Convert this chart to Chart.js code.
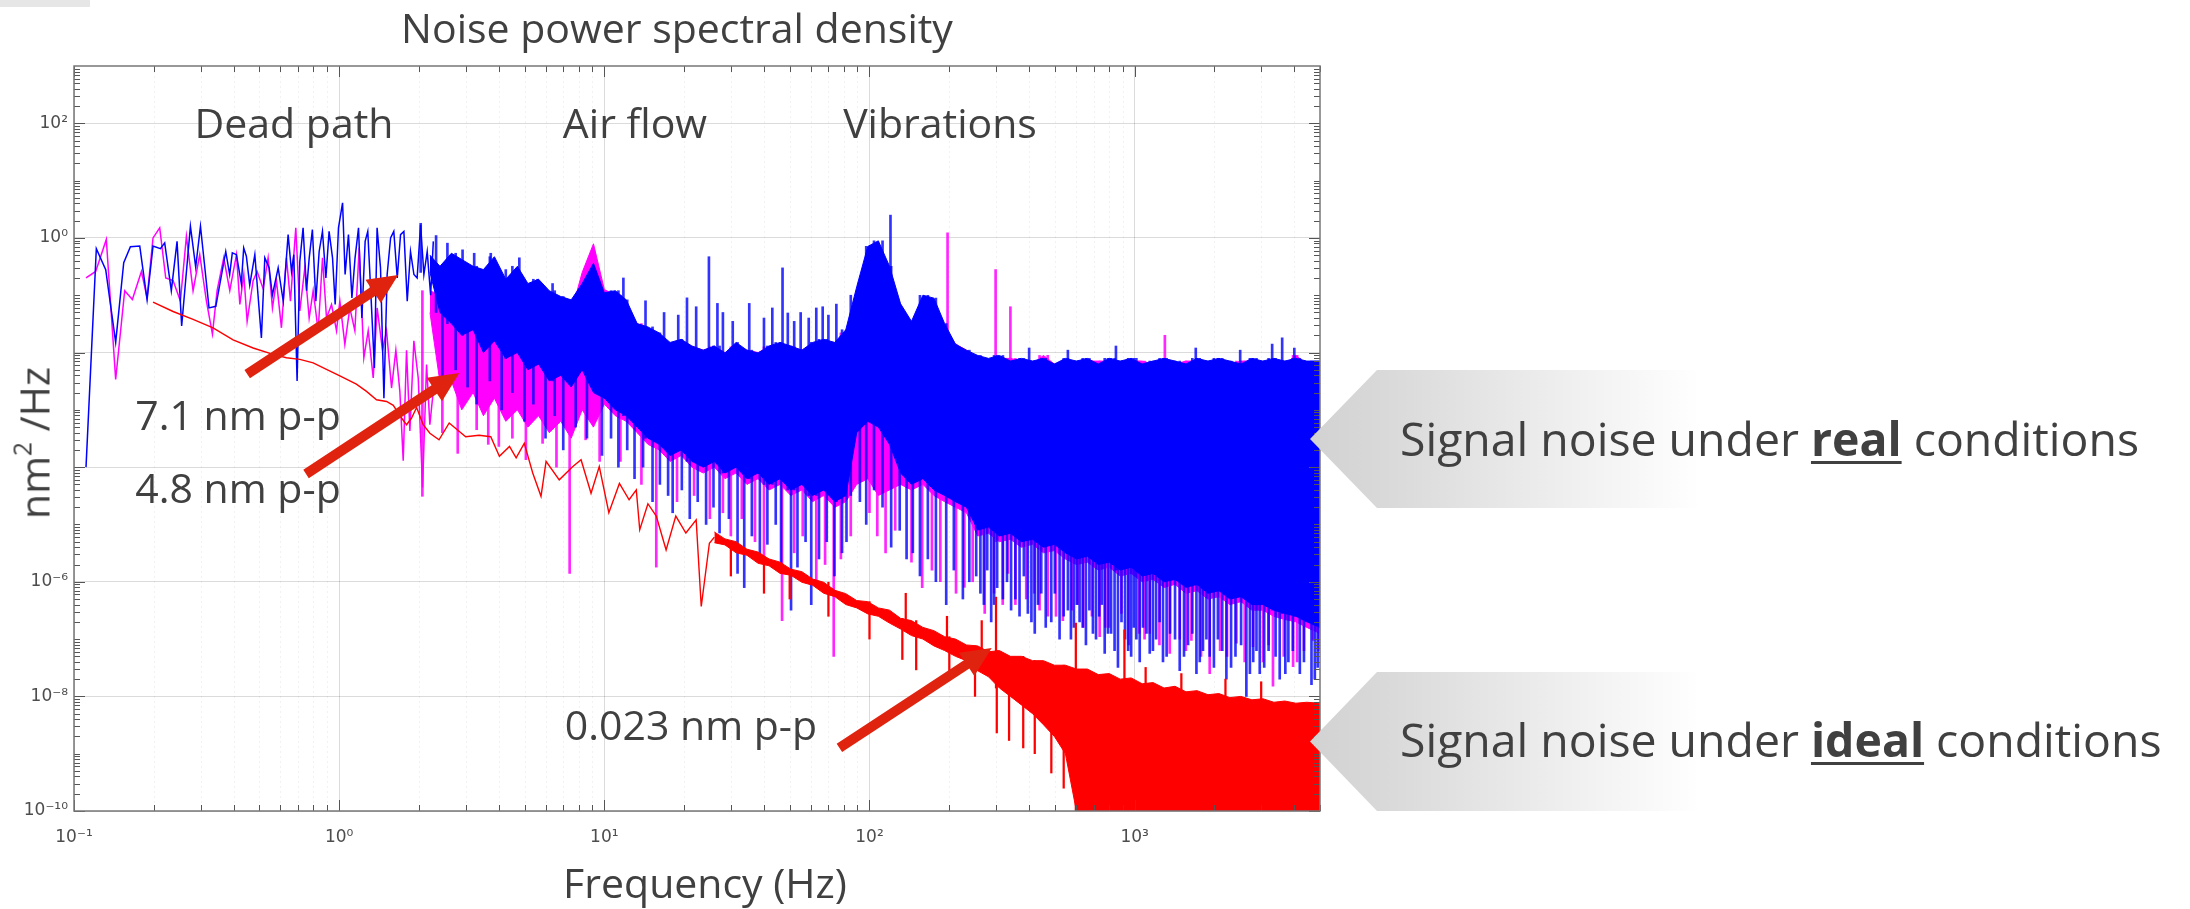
<!DOCTYPE html>
<html><head><meta charset="utf-8">
<script src="https://cdn.jsdelivr.net/npm/chart.js@4/dist/chart.umd.min.js"></script>
<style>
html,body{margin:0;padding:0;background:#fff;}
#wrap{position:relative;width:2190px;height:909px;overflow:hidden;font-family:'Open Sans',sans-serif;color:#404040;}
#c{position:absolute;left:0;top:0;}
.t{position:absolute;white-space:nowrap;line-height:1;}
.c{transform:translateX(-50%);}
.corner{position:absolute;left:0;top:0;width:90px;height:7px;background:#e6e6e6;}
.callout{position:absolute;left:1310px;width:880px;
  clip-path:polygon(0 50%,67px 0,100% 0,100% 100%,67px 100%);
  background:linear-gradient(to right,#d2d2d2 0px,#d8d8d8 67px,#ffffff 390px);}
u{text-decoration-thickness:3px;text-underline-offset:5px;}
sup{font-size:.6em;vertical-align:baseline;position:relative;top:-.75em;}
</style></head><body>
<div id="wrap">
<canvas id="c" width="2190" height="909"></canvas>
<div class="corner"></div>
<div class="callout" style="top:370px;height:138px"></div>
<div class="callout" style="top:672px;height:139px"></div>
<div class="t c" style="left:677px;top:7px;font-size:41px">Noise power spectral density</div>
<div class="t c" style="left:294px;top:102px;font-size:41px">Dead path</div>
<div class="t c" style="left:635px;top:102px;font-size:41px">Air flow</div>
<div class="t c" style="left:940px;top:102px;font-size:41px">Vibrations</div>
<div class="t c" style="left:238px;top:394px;font-size:41px">7.1 nm p-p</div>
<div class="t c" style="left:238px;top:467px;font-size:41px">4.8 nm p-p</div>
<div class="t c" style="left:691px;top:704px;font-size:41px">0.023 nm p-p</div>
<div class="t c" style="left:705px;top:862px;font-size:41px">Frequency (Hz)</div>
<div class="t" style="left:34px;top:443px;font-size:41px;transform:translate(-50%,-50%) rotate(-90deg)">nm<sup>2</sup> /Hz</div>
<div class="t" style="left:1400px;top:415px;font-size:46.4px">Signal noise under <b><u>real</u></b> conditions</div>
<div class="t" style="left:1400px;top:716px;font-size:46.4px">Signal noise under <b><u>ideal</u></b> conditions</div>
</div>
<script>
// ---------- axis ticks ----------
const xTickVals = [0.1, 1, 10, 100, 1000];
const xTickLabels = ['10\u207B\u00B9', '10\u2070', '10\u00B9', '10\u00B2', '10\u00B3'];
const yTickVals = [1e-10, 1e-8, 1e-6, 1e-4, 1e-2, 1, 100];
const yTickLabels = ['10\u207B\u00B9\u2070', '10\u207B\u2078', '10\u207B\u2076', '', '', '10\u2070', '10\u00B2'];

// ---------- low-frequency traces (Hz, nm^2/Hz) ----------
const blueF = [0.111,0.1214,0.1317,0.1436,0.154,0.1632,0.177,0.1886,0.1986,0.2118,
 0.2198,0.2328,0.2447,0.2547,0.2748,0.2877,0.2999,0.323,0.3426,0.3735,
 0.3864,0.3954,0.4099,0.4276,0.4365,0.4467,0.460,0.4808,0.509,0.5243,
 0.5445,0.5598,0.5888,0.6152,0.642,0.661,0.6745,0.694,0.7106,0.731,
 0.7534,0.771,0.7925,0.8166,0.8405,0.865,0.891,0.9162,0.944,0.966,
 0.994,1.03,1.053,1.084,1.117,1.148,1.183,1.218,1.253,1.282,
 1.321,1.358,1.39,1.432,1.475,1.517,1.563,1.607,1.656,1.704,
 1.754,1.806,1.858,1.914,1.968,2.028,2.087,2.148,2.213,2.265];
const blueV = [1.0e-4,0.65,0.28,0.015,0.37,0.70,0.72,0.084,0.72,0.65,
 0.82,0.12,0.87,0.029,1.6,0.31,1.6,0.060,0.064,0.58,
 0.23,0.55,0.51,0.16,0.67,0.48,0.15,0.51,0.018,0.45,
 0.30,0.10,0.30,0.079,1.14,0.26,0.51,0.0032,0.39,1.5,
 0.12,0.45,1.4,0.079,0.58,1.3,0.20,1.3,0.45,0.069,
 1.5,4.1,0.23,1.14,0.090,0.45,1.5,0.040,0.87,1.3,
 0.079,0.0054,1.5,0.30,0.0016,0.23,1.0,1.3,0.20,1.14,
 1.3,0.079,0.58,0.23,0.20,1.7,0.23,0.58,0.10,0.87];
const magF = [0.111,0.1207,0.1324,0.1436,0.1553,0.166,0.1796,0.1886,0.1986,0.2105,
 0.2218,0.2364,0.2519,0.2654,0.2812,0.298,0.3158,0.3327,0.3465,0.3671,
 0.3868,0.4099,0.4221,0.4369,0.4497,0.4737,0.4905,0.5168,0.5396,0.5602,
 0.58,0.6058,0.6327,0.6551,0.6862,0.7106,0.7421,0.7706,0.7979,0.8334,
 0.8654,0.8959,0.9357,0.9772,1.006,1.0505,1.097,1.146,1.19,1.239,
 1.287,1.344,1.391,1.457,1.509,1.576,1.636,1.694,1.744,1.795,
 1.848,1.913,1.987,2.063,2.136,2.198,2.263];
const magV = [0.20,0.26,0.94,0.0034,0.12,0.084,0.26,0.090,1.0,1.5,
 0.20,0.18,0.079,1.07,0.12,0.51,0.079,0.021,0.12,0.45,
 0.12,0.51,0.069,0.23,0.035,0.18,0.26,0.13,0.45,0.060,
 0.18,0.027,0.45,0.079,1.5,0.053,0.30,0.040,0.12,0.024,
 0.45,0.040,0.069,0.024,0.079,0.014,0.060,0.024,0.67,0.0081,
 0.024,0.0036,0.060,0.011,0.024,0.0024,0.011,0.0021,1.3e-4,0.011,
 4.3e-4,0.016,0.0036,4.4e-5,0.0062,5.5e-4,0.0021];
const redF = [0.1986,0.2364,0.2812,0.3345,0.398,0.4737,0.5636,0.6327,0.7106,0.798,
 0.8954,1.006,1.161,1.268,1.383,1.509,1.6,1.719,1.795,1.875,
 1.959,2.075,2.198,2.38,2.6,3.0,3.37,3.73,4.02,4.39,
 4.65,4.99,5.37,5.77,6.03,6.76,7.59,8.17,8.91,9.57,
 10.4,11.4,12.4,13.2,13.6,14.6,15.7,17.1,18.6,20.3,
 22.2,23.2,24.9,26];
const redV = [0.076,0.052,0.038,0.027,0.0166,0.012,0.0093,0.0081,0.0076,0.0066,
 0.0051,0.0039,0.0028,0.0021,0.0015,0.0014,0.0012,7.2e-4,5.5e-4,7.2e-4,
 0.0011,5.5e-4,3.9e-4,3.0e-4,5.9e-4,3.4e-4,3.6e-4,3.4e-4,1.55e-4,2.3e-4,
 1.45e-4,2.6e-4,7.9e-5,3.1e-5,1.26e-4,6.0e-5,1.02e-4,1.35e-4,3.5e-5,1.02e-4,
 1.6e-5,5.2e-5,2.7e-5,4.0e-5,8.1e-6,2.3e-5,1.4e-5,3.6e-6,1.4e-5,7.1e-6,
 1.2e-5,3.7e-7,4.7e-6,6.0e-6];

// ---------- dense region: upper / lower extent per frequency ----------
const denseF = [2.2,2.4,2.65,2.9,3.2,3.5,3.85,4.25,4.7,5.15,
 5.65,6.2,6.85,7.5,8.25,9.1,10,11,12.1,13.3,
 14.6,16.1,17.7,19.5,21.4,23.6,26,28.5,31.4,34.5,
 38,41.8,46,50.5,55.6,61,67.2,74,81.4,89.5,
 98.5,108,119,131,144,159,175,192,211,232,
 256,281,309,340,374,412,453,498,548,603,
 663,729,802,882,970,1067,1174,1291,1420,1562,
 1718,1890,2079,2287,2516,2768,3044,3349,3684,4052,
 4457,5000];
const blueHi = [0.5,0.32,0.54,0.42,0.32,0.28,0.47,0.19,0.32,0.16,
 0.19,0.12,0.095,0.083,0.16,0.36,0.11,0.12,0.083,0.032,
 0.028,0.022,0.015,0.017,0.013,0.011,0.013,0.0098,0.015,0.011,
 0.0098,0.013,0.015,0.013,0.011,0.015,0.017,0.015,0.025,0.14,
 0.71,0.89,0.32,0.071,0.035,0.10,0.089,0.032,0.014,0.011,
 0.0089,0.0079,0.0089,0.0071,0.0079,0.0071,0.0079,0.0063,0.0079,0.0071,
 0.0079,0.0063,0.0079,0.0071,0.0079,0.0063,0.0071,0.0079,0.0071,0.0063,
 0.0079,0.0071,0.0079,0.0071,0.0063,0.0079,0.0071,0.0079,0.0071,0.0079,
 0.0071,0.0071];
const blueLo = [0.25,0.05,0.032,0.020,0.025,0.010,0.016,0.0079,0.010,0.0050,
 0.0063,0.0032,0.0040,0.0025,0.0050,0.0020,0.0016,0.0010,7.9e-4,5.0e-4,
 3.2e-4,2.5e-4,1.6e-4,2.0e-4,1.26e-4,1.0e-4,1.26e-4,7.9e-5,1.0e-4,6.3e-5,
 7.9e-5,5.0e-5,6.3e-5,4.0e-5,5.0e-5,3.2e-5,4.0e-5,2.5e-5,3.2e-5,4.0e-4,
 6.3e-4,5.0e-4,2.5e-4,7.9e-5,5.0e-5,6.3e-5,4.0e-5,3.2e-5,2.5e-5,2.0e-5,
 8.0e-6,9.0e-6,6.3e-6,7.0e-6,5.0e-6,5.5e-6,4.0e-6,4.5e-6,3.2e-6,2.5e-6,
 2.8e-6,2.0e-6,2.2e-6,1.6e-6,1.8e-6,1.26e-6,1.4e-6,1.0e-6,1.1e-6,8.0e-7,
 9.0e-7,6.3e-7,7.0e-7,5.0e-7,5.5e-7,4.0e-7,4.0e-7,3.2e-7,2.8e-7,2.5e-7,
 2.0e-7,1.6e-7];
const magHi = [0.12,0.10,0.158,0.079,0.126,0.063,0.10,0.050,0.079,0.040,
 0.050,0.032,0.040,0.050,0.25,0.79,0.126,0.10,0.063,0.032,
 0.025,0.020,0.014,0.016,0.0126,0.011,0.0126,0.010,0.0126,0.011,
 0.010,0.0126,0.014,0.0126,0.011,0.014,0.016,0.014,0.022,0.10,
 0.50,0.50,0.20,0.063,0.032,0.079,0.071,0.028,0.014,0.011,
 0.0079,0.0071,0.0079,0.0079,0.0071,0.0063,0.0089,0.0063,0.0071,0.0063,
 0.0071,0.0071,0.0071,0.0063,0.0071,0.0071,0.0063,0.0071,0.0063,0.0071,
 0.0071,0.0063,0.0071,0.0063,0.0071,0.0071,0.0063,0.0071,0.0063,0.0089,
 0.0063,0.0063];
const magLo = [0.05,0.003,0.0032,0.0010,0.0020,7.9e-4,0.0016,6.3e-4,0.0010,5.0e-4,
 7.9e-4,4.0e-4,6.3e-4,3.2e-4,0.0010,5.0e-4,0.00126,7.9e-4,6.3e-4,4.0e-4,
 2.5e-4,2.0e-4,1.26e-4,1.6e-4,1.0e-4,7.9e-5,1.0e-4,6.3e-5,7.9e-5,5.0e-5,
 6.3e-5,4.0e-5,5.0e-5,3.2e-5,4.0e-5,2.5e-5,3.2e-5,2.0e-5,2.5e-5,5.0e-5,
 6.3e-5,3.2e-5,4.0e-5,5.0e-5,4.0e-5,5.0e-5,3.2e-5,2.5e-5,2.0e-5,1.6e-5,
 6.3e-6,7.0e-6,5.0e-6,5.5e-6,4.0e-6,4.5e-6,3.2e-6,3.5e-6,2.5e-6,2.0e-6,
 2.2e-6,1.6e-6,1.8e-6,1.26e-6,1.4e-6,1.0e-6,1.1e-6,8.0e-7,9.0e-7,6.3e-7,
 7.0e-7,5.0e-7,5.5e-7,4.0e-7,4.5e-7,3.2e-7,3.2e-7,2.5e-7,2.2e-7,2.0e-7,
 1.6e-7,1.26e-7];
const redBandF = denseF.slice(26);
const redHi = [7.4e-6,5.6e-6,5.0e-6,3.7e-6,3.3e-6,2.5e-6,2.2e-6,1.66e-6,1.5e-6,1.12e-6,
 9.8e-7,7.1e-7,6.2e-7,4.7e-7,4.5e-7,3.5e-7,3.2e-7,2.3e-7,2.1e-7,1.6e-7,
 1.4e-7,1.1e-7,1.0e-7,7.9e-8,7.6e-8,6.0e-8,6.3e-8,5.0e-8,5.0e-8,4.2e-8,
 4.2e-8,3.5e-8,3.5e-8,3.0e-8,3.0e-8,2.4e-8,2.5e-8,2.0e-8,2.1e-8,1.66e-8,
 1.74e-8,1.4e-8,1.5e-8,1.2e-8,1.26e-8,1.07e-8,1.12e-8,9.5e-9,1.0e-8,8.7e-9,
 9.1e-9,7.9e-9,8.3e-9,7.6e-9,7.9e-9,7.6e-9];
const redLo = [4.8e-6,4.4e-6,3.2e-6,2.9e-6,2.1e-6,1.9e-6,1.4e-6,1.3e-6,9.8e-7,8.7e-7,
 6.3e-7,5.5e-7,4.0e-7,3.5e-7,2.75e-7,2.5e-7,1.9e-7,1.5e-7,1.15e-7,1.0e-7,
 7.6e-8,6.3e-8,5.0e-8,4.2e-8,2.8e-8,2.2e-8,1.4e-8,1.0e-8,7.1e-9,5.0e-9,
 3.2e-9,2.0e-9,1.0e-9,1e-10,1e-10,1e-10,1e-10,1e-10,1e-10,1e-10,
 1e-10,1e-10,1e-10,1e-10,1e-10,1e-10,1e-10,1e-10,1e-10,1e-10,
 1e-10,1e-10,1e-10,1e-10,1e-10,1e-10];

// ---------- isolated spikes (frequency, tip value) ----------
const blueSpikeF = [2.03,2.32,2.45,2.56,2.75,2.92,3.05,3.23,3.3,3.7,
 3.73,4.1,4.25,4.5,4.78,5.0,5.4,5.6,6.0,6.38,
 6.5,7.0,7.8,8.6,9.8,10.6,11.3,12.2,13.0,14.0,
 15.2,16.2,17.4,18.1,19.6,21.0,22.2,22.5,24.2,24.8,
 25.8,26.7,27.2,29.5,31.8,33.7,35.2,36.0,38.6,41.2,
 44.3,46.4,47.0,49.2,50.6,53.5,57.4,60.3,64.5,66.6,
 69.0,73.8,78.8,81.9,92,97.2,104,112,120,120.7,
 130,138,145.7,155,166,178,194.7,208,225,238,
 252.6,270,287.7,303,318.5,342,368,395.5,420,444.4,
 484.8,521,560,590,620,655,696,735,771,815,
 865,920,970,1015,1075,1140,1205,1279,1360,1479,
 1590,1710,1810,1919,2060,2218,2400,2638,2800,2963,
 3200,3300,3524,3600,3800,4197,4644,4900,
 262,278,295,330,355,382,408,432,462,500,
 540,575,605,637,675,715,752,793,840,892,
 945,992,1045,1108,1172,1242,1320,1420,1535,1650,
 1760,1865,1990,2140,2310,2520,2720,2880,3080,3400,
 3700,3950,4350,4780,
 11.8,14.3,16.8,19,20.5,28,30.5,40,43,52,
 55,59,63,70,75,85,400,560,850,1700,2500,4000];
const blueSpikeV = [1.8,1.1,2.2e-3,0.81,5.0e-3,0.62,2.5e-3,0.54,1.26e-3,3.2e-3,
 0.54,1.0e-3,0.28,2.0e-3,0.45,6.3e-4,1.26e-3,0.19,3.2e-4,0.16,
 7.9e-4,2.0e-4,5.0e-4,3.2e-4,1.6e-4,3.2e-4,1.0e-4,2.0e-4,6.3e-5,1.0e-4,
 2.5e-5,5.0e-5,3.2e-5,1.6e-5,4.0e-5,1.26e-5,0.063,2.5e-5,1.0e-5,0.47,
 2.0e-5,0.072,7.1e-6,1.26e-5,1.4e-6,7.9e-7,0.072,6.3e-6,2.5e-6,4.5e-6,
 1.0e-5,1.6e-6,0.30,0.049,3.2e-7,1.8e-6,5.0e-6,4.0e-7,2.5e-6,0.063,
 5.0e-6,1.26e-6,3.2e-6,5.0e-6,2.5e-5,1.0e-5,4.0e-5,2.0e-5,2.5,4.0e-6,
 7.9e-6,2.5e-6,3.2e-6,1.26e-6,2.5e-6,1.0e-6,4.0e-7,1.6e-6,5.0e-7,1.0e-6,
 1.26e-6,4.0e-7,2.0e-7,7.9e-7,5.0e-7,3.2e-7,2.5e-7,2.8e-7,1.26e-7,6.3e-7,
 2.0e-7,1.0e-7,3.2e-7,1.6e-7,2.0e-7,7.9e-8,1.26e-7,2.5e-7,5.6e-8,1.26e-7,
 3.2e-8,1.0e-7,5.0e-8,1.0e-7,1.6e-7,5.6e-8,1.0e-7,4.0e-8,1.26e-7,2.8e-8,
 7.9e-8,2.5e-8,6.3e-8,5.0e-8,1.0e-7,2.0e-8,5.0e-8,1.0e-8,4.0e-8,2.5e-8,
 6.3e-8,0.014,2.0e-8,0.018,4.0e-8,2.5e-8,1.6e-8,3.2e-8,
 6.3e-7,1.6e-6,4.0e-7,1.0e-6,5.0e-7,1.26e-6,2.0e-7,4.0e-7,1.6e-7,6.3e-7,
 2.5e-7,1.0e-7,4.0e-7,1.6e-7,3.2e-7,1.0e-7,4.0e-7,1.26e-7,6.3e-8,2.0e-7,
 6.3e-8,1.6e-7,4.0e-8,1.26e-7,6.3e-8,2.0e-7,5.0e-8,1.0e-7,5.0e-8,1.26e-7,
 4.0e-8,1.0e-7,3.2e-8,6.3e-8,3.2e-8,7.9e-8,2.5e-8,6.3e-8,3.2e-8,5.0e-8,
 2.5e-8,6.3e-8,4.0e-8,2.0e-8,
 0.2,0.08,0.05,0.045,0.09,0.05,0.035,0.04,0.06,0.035,
 0.05,0.04,0.06,0.045,0.07,0.1,0.012,0.011,0.013,0.012,0.011,0.012];
const magSpikeF = [2.06,2.45,2.8,3.3,3.65,4.0,4.5,5.06,5.85,6.6,
 7.4,8.5,9.6,11.5,13.8,15.7,18.8,21.8,25,28,
 30,33,37,40,46.8,52,56,63,68,73.3,
 78,85,100,107,115,125,144,158,172,185,
 197,212,245,272,295,299,333,340,355,390,
 438,470,536,580,640,690,738,800,891,950,
 1040,1140,1240,1300,1356,1480,1637,1780,1919,2100,
 2420,2600,2795,3050,3324,3650,3958,4350,4710,
 228,318,418,505,610,775,1090,1560,2230,3200,4100,4950];
const magSpikeV = [3.1e-5,4.0e-4,1.74e-4,4.5e-4,2.5e-4,2.3e-4,3.2e-4,1.35e-4,2.6e-4,1.0e-4,
 1.4e-6,3.0e-4,1.26e-4,1.26e-4,5.0e-5,1.8e-6,2.5e-5,3.2e-5,1.26e-5,1.6e-5,
 6.3e-6,1.26e-5,5.0e-6,2.5e-6,2.1e-7,3.2e-6,6.3e-6,1.0e-6,2.0e-6,5.0e-8,
 2.5e-6,6.3e-6,1.6e-5,6.3e-6,3.2e-6,7.9e-6,2.2e-6,7.9e-7,1.6e-6,1.0e-6,
 1.23,6.3e-7,1.0e-6,2.8e-7,6.3e-7,0.28,1.4e-6,0.063,4.0e-7,5.0e-7,
 3.2e-7,2.5e-7,2.1e-7,3.2e-7,1.6e-7,2.5e-7,1.1e-7,1.6e-7,2.8e-7,7.9e-8,
 1.26e-7,1.26e-7,7.9e-8,0.020,5.6e-8,1.0e-7,9.5e-8,5.0e-8,2.5e-8,6.3e-8,
 8.5e-8,4.0e-8,7.4e-8,4.0e-8,1.5e-8,5.0e-8,3.3e-8,6.3e-8,9.5e-8,
 8.0e-7,4.0e-7,6.3e-7,2.5e-7,4.0e-7,1.6e-7,1.0e-7,6.3e-8,5.0e-8,7.9e-8,4.0e-8,6.3e-8];
const redSpikeF = [30,40,50,70,100,133,137,150,196,200,250,265,300,302,336,380,420,485,540,600,915,1100,1500,2200,3000];
const redSpikeV = [1.26e-6,6.3e-7,5.0e-7,2.5e-7,1.0e-7,4.4e-8,6.3e-7,2.9e-8,2.5e-7,2.0e-8,1.0e-8,2.1e-7,5.4e-7,2.3e-9,1.7e-9,1.26e-9,1.0e-9,4.6e-10,2.5e-10,1.9e-7,1.45e-7,3.2e-8,2.5e-8,2.0e-8,1.8e-8];

// ---------- annotation arrows (data coordinates) ----------
const arrowTail = [[0.45, 4.2e-3], [0.75, 7.6e-5], [77, 1.26e-9]];
const arrowHead = [[1.67, 0.226], [2.84, 4.4e-3], [289, 7.0e-8]];

// ---------- colours ----------
const BLUE = '#0000ff', MAG = '#ff00ff', RED = '#ff0000', ARROW = '#e0230f';

// ---------- build datasets ----------
const pts = (fs, vs) => fs.map((f, i) => ({x: f, y: vs[i]}));
function nearest(grid, f) {
  let best = 0, bd = Infinity;
  grid.forEach((g, i) => { const d = Math.abs(Math.log(g / f)); if (d < bd) { bd = d; best = i; } });
  return best;
}
function spikes(sf, sv, grid, hi, lo) {
  return sf.map((f, i) => { const k = nearest(grid, f); const t = sv[i];
    return {x: f, y: [Math.min(t, lo[k]), Math.max(t, hi[k])]}; });
}
const lineDs = (data, color, w, order, extra) => Object.assign({
  type: 'line', data, borderColor: color, backgroundColor: color, borderWidth: w,
  pointRadius: 0, fill: false, tension: 0, order }, extra || {});
const barDs = (data, color, w, order) => ({
  type: 'bar', data, backgroundColor: color, borderWidth: 0, barThickness: w,
  grouped: false, order });

const datasets = [
  lineDs(pts(redF, redV), RED, 1.4, 1),
  lineDs(pts(redBandF, redHi), RED, 1, 1),
  lineDs(pts(redBandF, redLo), RED, 1, 1, {fill: '-1'}),
  barDs(spikes(redSpikeF, redSpikeV, redBandF, redHi, redLo), RED, 1.6, 1),
  lineDs(pts(blueF, blueV), BLUE, 1.5, 2),
  lineDs(pts(denseF, blueHi), BLUE, 1, 2),
  lineDs(pts(denseF, blueLo), BLUE, 1, 2, {fill: '-1'}),
  barDs(spikes(blueSpikeF, blueSpikeV, denseF, blueHi, blueLo), 'rgba(0,0,255,0.8)', 2, 2),
  lineDs(pts(magF, magV), MAG, 1.5, 3),
  lineDs(pts(denseF, magHi), MAG, 1, 3),
  lineDs(pts(denseF, magLo), MAG, 1, 3, {fill: '-1'}),
  barDs(spikes(magSpikeF, magSpikeV, denseF, magHi, magLo), 'rgba(255,0,255,0.85)', 2, 3)
];

// ---------- decoration plugin: minor grid, inward ticks, box, arrows ----------
const decor = {
  id: 'decor',
  beforeDatasetsDraw(chart) {
    const {ctx, chartArea: a, scales: {x}} = chart;
    ctx.save();
    ctx.strokeStyle = 'rgba(0,0,0,0.05)'; ctx.lineWidth = 1; ctx.setLineDash([2, 3]);
    ctx.beginPath();
    for (let e = -1; e <= 3; e++) for (let k = 2; k <= 9; k++) {
      const v = k * Math.pow(10, e); if (v >= x.max) continue;
      const p = Math.round(x.getPixelForValue(v)) + 0.5;
      ctx.moveTo(p, a.top); ctx.lineTo(p, a.bottom);
    }
    ctx.stroke(); ctx.restore();
  },
  afterDatasetsDraw(chart) {
    const {ctx, chartArea: a, scales: {x, y}} = chart;
    ctx.save();
    ctx.strokeStyle = '#555'; ctx.lineWidth = 1; ctx.beginPath();
    for (let e = -1; e <= 3; e++) for (let k = 1; k <= 9; k++) {
      const v = k * Math.pow(10, e); if (v > x.max) continue;
      const p = Math.round(x.getPixelForValue(v)) + 0.5, L = k === 1 ? 11 : 6;
      ctx.moveTo(p, a.bottom); ctx.lineTo(p, a.bottom - L);
      ctx.moveTo(p, a.top); ctx.lineTo(p, a.top + L);
    }
    for (let e = -10; e <= 2; e++) for (let k = 1; k <= 9; k++) {
      const v = k * Math.pow(10, e); if (v > y.max) continue;
      const p = Math.round(y.getPixelForValue(v)) + 0.5, L = (k === 1 && e % 2 === 0) ? 11 : 6;
      ctx.moveTo(a.left, p); ctx.lineTo(a.left + L, p);
      ctx.moveTo(a.right, p); ctx.lineTo(a.right - L, p);
    }
    ctx.stroke();
    ctx.strokeStyle = '#777'; ctx.lineWidth = 1.5;
    ctx.strokeRect(a.left, a.top, a.right - a.left, a.bottom - a.top);
    ctx.fillStyle = ARROW;
    arrowTail.forEach((t, i) => {
      const x0 = x.getPixelForValue(t[0]), y0 = y.getPixelForValue(t[1]);
      const x1 = x.getPixelForValue(arrowHead[i][0]), y1 = y.getPixelForValue(arrowHead[i][1]);
      const ang = Math.atan2(y1 - y0, x1 - x0), L = Math.hypot(x1 - x0, y1 - y0);
      const w = 10, hl = 30, hw = 28;
      ctx.save(); ctx.translate(x0, y0); ctx.rotate(ang);
      ctx.beginPath();
      ctx.moveTo(0, -w / 2); ctx.lineTo(L - hl, -w / 2); ctx.lineTo(L - hl, -hw / 2);
      ctx.lineTo(L, 0); ctx.lineTo(L - hl, hw / 2); ctx.lineTo(L - hl, w / 2); ctx.lineTo(0, w / 2);
      ctx.closePath(); ctx.fill(); ctx.restore();
    });
    ctx.restore();
  }
};

Chart.defaults.font.family = 'DejaVu Sans';
new Chart(document.getElementById('c'), {
  type: 'line',
  data: {datasets},
  options: {
    responsive: false, animation: false, devicePixelRatio: 1,
    layout: {padding: {left: 0, right: 870, top: 66, bottom: 0}},
    plugins: {legend: {display: false}, tooltip: {enabled: false}, title: {display: false}},
    scales: {
      x: {
        type: 'logarithmic', min: 0.1, max: 5000, offset: false,
        afterBuildTicks: s => { s.ticks = xTickVals.map(v => ({value: v})); },
        afterFit: s => { s.height = 98; },
        ticks: {autoSkip: false, maxRotation: 0, padding: 16, color: '#4d4d4d', font: {size: 17},
          callback: (v, i) => xTickLabels[i]},
        grid: {color: 'rgba(0,0,0,0.14)', drawTicks: false, offset: false},
        border: {display: false}
      },
      y: {
        type: 'logarithmic', min: 1e-10, max: 1e3,
        afterBuildTicks: s => { s.ticks = yTickVals.map(v => ({value: v})); },
        afterFit: s => { s.width = 74; },
        ticks: {autoSkip: false, padding: 6, color: '#4d4d4d', font: {size: 17},
          callback: (v, i) => yTickLabels[i]},
        grid: {color: 'rgba(0,0,0,0.14)', drawTicks: false},
        border: {display: false}
      }
    }
  },
  plugins: [decor]
});
</script>
</body></html>
